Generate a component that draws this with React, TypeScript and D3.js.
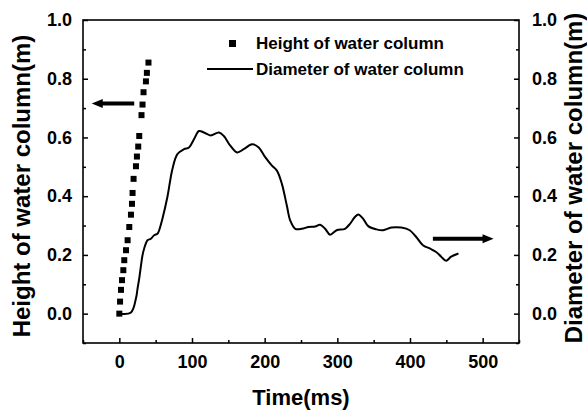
import React, { useEffect, useRef } from "react";
import * as d3 from "d3";

// height of water column (left axis), time in ms
const heightTime = [0, 1.0, 2.3, 3.7, 5.5, 6.8, 9.2, 11.4, 13.7, 16.0, 17.4, 18.2, 19.6, 22.9, 24.2, 26.0, 27.4, 30.5, 31.9, 33.3, 36.6, 37.9, 40.1];
const heightValue = [0, 0.041, 0.081, 0.114, 0.148, 0.182, 0.216, 0.25, 0.295, 0.337, 0.374, 0.411, 0.459, 0.502, 0.535, 0.569, 0.605, 0.676, 0.712, 0.754, 0.791, 0.82, 0.855];

// diameter of water column (right axis)
const diamTime = [0, 16.0, 22.9, 25.1, 27.4, 31.9, 34.2, 38.8, 43.4, 47.9, 52.5, 54.8, 59.3, 66.2, 73.0, 79.9, 89.0, 95.9, 102.7, 109.6, 116.4, 125.6, 137.0, 143.8, 153.0, 162.1, 171.2, 182.6, 191.8, 201.0, 210.0, 216.8, 223.7, 230.5, 235.2, 242.1, 251.1, 260.3, 269.5, 276.3, 283.2, 290.0, 299.0, 310.5, 317.4, 324.2, 328.8, 335.6, 342.5, 353.8, 363.0, 374.4, 388.1, 399.6, 408.6, 417.8, 427.0, 436.0, 442.9, 449.7, 456.6, 466.7];
const diamValue = [0, 0.004, 0.052, 0.086, 0.12, 0.199, 0.222, 0.25, 0.255, 0.267, 0.272, 0.284, 0.323, 0.398, 0.492, 0.543, 0.56, 0.566, 0.594, 0.622, 0.617, 0.607, 0.617, 0.605, 0.571, 0.549, 0.56, 0.577, 0.566, 0.532, 0.504, 0.487, 0.442, 0.368, 0.317, 0.289, 0.289, 0.295, 0.297, 0.303, 0.289, 0.269, 0.284, 0.289, 0.306, 0.329, 0.338, 0.323, 0.298, 0.287, 0.284, 0.293, 0.293, 0.284, 0.261, 0.233, 0.222, 0.21, 0.194, 0.18, 0.194, 0.205];

const xTicks = [0, 100, 200, 300, 400, 500];
const yTicks = [0, 0.2, 0.4, 0.6, 0.8, 1.0];

// arrows pointing to each axis: [tailTime, headTime, value]
const leftArrow = [20.5, -38, 0.716];
const rightArrow = [431.5, 515, 0.255];

const legendLabels = ["Height of water column", "Diameter of water column"];

const W = 587;
const H = 411;
const FONT = "'Liberation Sans', Arial, sans-serif";

export default function App() {
  const ref = useRef<SVGSVGElement>(null);

  useEffect(() => {
    const svg = d3.select(ref.current);
    svg.selectAll("*").remove();

    const left = 83, right = 519, top = 20, bottom = 343;
    const x = d3.scaleLinear().domain([-50, 550]).range([left, right]);
    const y = d3.scaleLinear().domain([-0.1, 1.0]).range([bottom, top]);

    const g = svg.append("g");

    // frame
    g.append("rect")
      .attr("x", left).attr("y", top)
      .attr("width", right - left).attr("height", bottom - top)
      .attr("fill", "none").attr("stroke", "#000").attr("stroke-width", 1.6);

    const styleAxis = (sel: any) => {
      sel.select(".domain").remove();
      sel.selectAll("line").attr("stroke", "#000").attr("stroke-width", 1.5);
      sel.selectAll("text")
        .attr("fill", "#000")
        .style("font-family", FONT)
        .style("font-size", "18px")
        .style("font-weight", "bold");
    };

    const minorY = d3.range(-0.1, 1.0001, 0.1).filter((v) => !yTicks.some((t) => Math.abs(t - v) < 1e-6));
    const minorX = d3.range(-50, 551, 100);

    // bottom axis, ticks inward
    g.append("g").attr("transform", `translate(0,${bottom})`)
      .call(d3.axisBottom(x).tickValues(xTicks).tickSize(-5).tickPadding(12).tickFormat(d3.format("d")))
      .call(styleAxis);
    g.append("g").attr("transform", `translate(0,${bottom})`)
      .call(d3.axisBottom(x).tickValues(minorX).tickSize(-3).tickFormat(() => ""))
      .call(styleAxis);

    // left axis
    g.append("g").attr("transform", `translate(${left},0)`)
      .call(d3.axisLeft(y).tickValues(yTicks).tickSize(-5).tickPadding(11).tickFormat(d3.format(".1f")))
      .call(styleAxis);
    g.append("g").attr("transform", `translate(${left},0)`)
      .call(d3.axisLeft(y).tickValues(minorY).tickSize(-3).tickFormat(() => ""))
      .call(styleAxis);

    // right axis
    g.append("g").attr("transform", `translate(${right},0)`)
      .call(d3.axisRight(y).tickValues(yTicks).tickSize(-5).tickPadding(13).tickFormat(d3.format(".1f")))
      .call(styleAxis);
    g.append("g").attr("transform", `translate(${right},0)`)
      .call(d3.axisRight(y).tickValues(minorY).tickSize(-3).tickFormat(() => ""))
      .call(styleAxis);

    // titles
    const title = (t: string, tx: number, ty: number, rot: number, size: number) =>
      svg.append("text")
        .attr("transform", `translate(${tx},${ty}) rotate(${rot})`)
        .attr("text-anchor", "middle")
        .style("font-family", FONT)
        .style("font-size", size + "px")
        .style("font-weight", "bold")
        .text(t);
    title("Time(ms)", (left + right) / 2, 405, 0, 22);
    title("Height of water column(m)", 30, 186, -90, 24);
    title("Diameter of water column(m)", 582, 178, -90, 24);

    // diameter line
    const pts: [number, number][] = diamTime.map((t, i) => [t, diamValue[i]]);
    g.append("path")
      .datum(pts)
      .attr("fill", "none")
      .attr("stroke", "#000")
      .attr("stroke-width", 2)
      .attr("d", d3.line<[number, number]>().x((d) => x(d[0])).y((d) => y(d[1])).curve(d3.curveCatmullRom));

    // height squares
    const sq = 6;
    g.selectAll("rect.sq")
      .data(heightTime.map((t, i) => [t, heightValue[i]]))
      .enter()
      .append("rect")
      .attr("class", "sq")
      .attr("x", (d) => x(d[0]) - sq / 2)
      .attr("y", (d) => y(d[1]) - sq / 2)
      .attr("width", sq)
      .attr("height", sq)
      .attr("fill", "#000");

    // arrows
    const arrow = (a: number[]) => {
      const x0 = x(a[0]), x1 = x(a[1]), yy = y(a[2]);
      const dir = Math.sign(x1 - x0);
      g.append("line")
        .attr("x1", x0).attr("x2", x1 - dir * 8)
        .attr("y1", yy).attr("y2", yy)
        .attr("stroke", "#000").attr("stroke-width", 4);
      g.append("path")
        .attr("d", `M${x1},${yy} L${x1 - dir * 11},${yy - 4.5} L${x1 - dir * 11},${yy + 4.5} Z`)
        .attr("fill", "#000");
    };
    arrow(leftArrow);
    arrow(rightArrow);

    // legend
    const lg = svg.append("g");
    lg.append("rect").attr("x", 229).attr("y", 40).attr("width", 7).attr("height", 7).attr("fill", "#000");
    lg.append("line").attr("x1", 207).attr("x2", 253).attr("y1", 69).attr("y2", 69)
      .attr("stroke", "#000").attr("stroke-width", 2);
    legendLabels.forEach((l, i) => {
      lg.append("text")
        .attr("x", 256)
        .attr("y", 49 + i * 26)
        .style("font-family", FONT)
        .style("font-size", "17px")
        .style("font-weight", "bold")
        .text(l);
    });
  }, []);

  return (
    <div style={{ position: "absolute", left: 0, top: 0 }}>
      <svg ref={ref} width={W} height={H} style={{ display: "block", background: "#fff" }} />
    </div>
  );
}
